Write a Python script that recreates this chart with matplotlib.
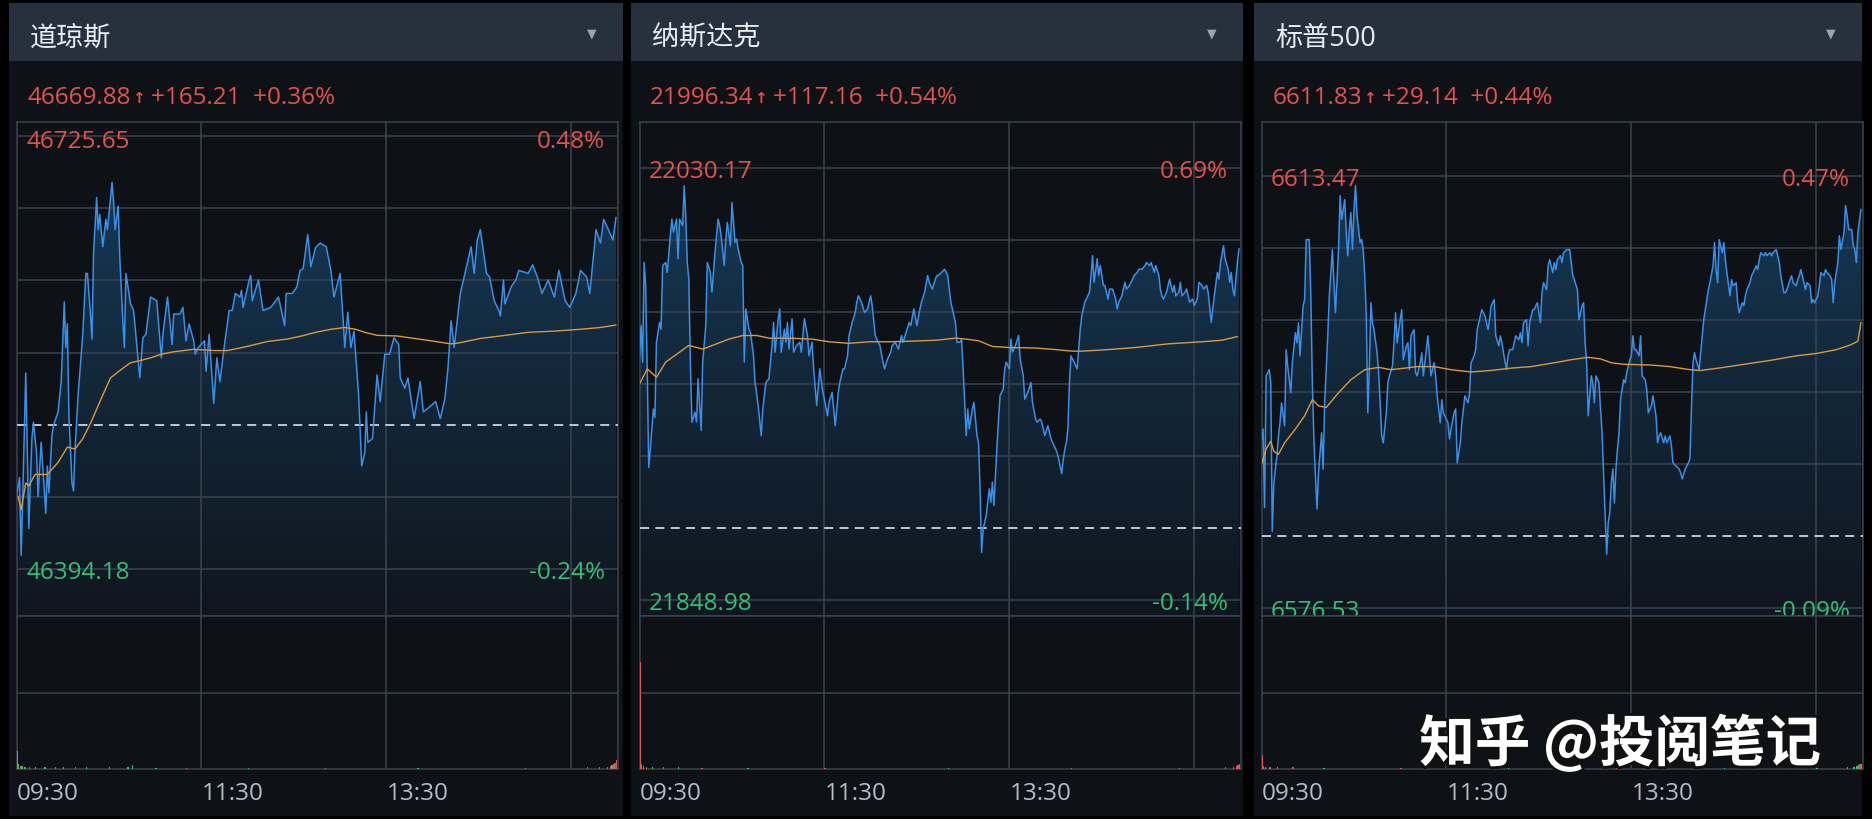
import numpy as np
import matplotlib
matplotlib.use('Agg')
import matplotlib.pyplot as plt
from matplotlib.patches import Rectangle, Polygon
from matplotlib.colors import LinearSegmentedColormap
from matplotlib.transforms import blended_transform_factory
import matplotlib.patheffects as pe

plt.rcParams['font.family'] = ['Open Sans', 'Noto Sans CJK SC', 'DejaVu Sans']

# ---------------- data ----------------
names = ['道琼斯', '纳斯达克', '标普500']
last_price = [46669.88, 21996.34, 6611.83]
change_abs = [165.21, 117.16, 29.14]
top_price = [46725.65, 22030.17, 6613.47]
bottom_price = [46394.18, 21848.98, 6576.53]
time_ticks = [0, 120, 240]
time_labels = ['09:30', '11:30', '13:30']
session_minutes = 390

# (minute since open, % change vs previous close)
dow_points = [
    (0, -0.118), (2, -0.087), (3, -0.215), (4, -0.123), (6, 0.085), (8, -0.171), (10, -0.023), (11, 0.004), (13, -0.046), (14, -0.118),
    (16, -0.029), (19, -0.146), (20, -0.068), (21, -0.112), (23, -0.018), (24, -0.001), (27, 0.021), (29, 0.071), (31, 0.202), (32, 0.127),
    (33, 0.166), (34, 0.016), (36, -0.096), (37, -0.109), (38, -0.04), (40, 0.049), (41, 0.082), (43, 0.149), (45, 0.249), (46, 0.249),
    (48, 0.182), (49, 0.141), (50, 0.282), (52, 0.374), (53, 0.321), (54, 0.346), (56, 0.293), (58, 0.338), (59, 0.321), (62, 0.399),
    (63, 0.366), (64, 0.321), (66, 0.36), (67, 0.277), (69, 0.171), (70, 0.127), (71, 0.249), (74, 0.199), (76, 0.188), (80, 0.077),
    (82, 0.143), (84, 0.149), (87, 0.21), (91, 0.204), (94, 0.11), (95, 0.149), (98, 0.21), (101, 0.132), (102, 0.182), (106, 0.182),
    (108, 0.193), (110, 0.138), (112, 0.166), (115, 0.138), (116, 0.116), (118, 0.127), (122, 0.138), (123, 0.088), (125, 0.149), (128, 0.035),
    (130, 0.11), (132, 0.071), (135, 0.132), (138, 0.188), (140, 0.188), (142, 0.216), (145, 0.21), (146, 0.221), (147, 0.193), (151, 0.238),
    (152, 0.246), (153, 0.204), (157, 0.238), (160, 0.188), (165, 0.193), (170, 0.21), (174, 0.163), (175, 0.216), (179, 0.216), (182, 0.227),
    (184, 0.254), (186, 0.257), (189, 0.313), (191, 0.26), (194, 0.291), (197, 0.299), (201, 0.293), (204, 0.254), (206, 0.21), (210, 0.249),
    (212, 0.171), (213, 0.127), (215, 0.185), (217, 0.127), (219, 0.154), (222, 0.049), (224, -0.068), (226, -0.046), (227, 0.021), (228, -0.029),
    (231, -0.023), (234, 0.082), (236, 0.038), (239, 0.116), (242, 0.116), (245, 0.143), (248, 0.132), (249, 0.077), (252, 0.06), (254, 0.077),
    (258, 0.01), (262, 0.071), (264, 0.021), (267, 0.027), (272, 0.038), (275, 0.01), (278, 0.043), (280, 0.093), (282, 0.171), (284, 0.127),
    (285, 0.149), (288, 0.216), (292, 0.26), (295, 0.293), (297, 0.249), (299, 0.304), (301, 0.321), (305, 0.249), (307, 0.243), (310, 0.204),
    (313, 0.188), (314, 0.179), (316, 0.238), (317, 0.199), (321, 0.227), (324, 0.238), (326, 0.254), (332, 0.249), (335, 0.263), (338, 0.243),
    (341, 0.216), (345, 0.238), (349, 0.21), (352, 0.254), (356, 0.204), (359, 0.193), (363, 0.216), (366, 0.254), (370, 0.243), (372, 0.216),
    (375, 0.293), (376, 0.321), (379, 0.299), (381, 0.338), (385, 0.316), (387, 0.304), (389, 0.341)]

nasdaq_points = [
    (0, 0.324), (1, 0.388), (2, 0.318), (3, 0.509), (4, 0.465), (5, 0.305), (6, 0.116), (7, 0.151), (9, 0.228), (10, 0.212),
    (11, 0.356), (13, 0.394), (14, 0.381), (15, 0.503), (17, 0.509), (18, 0.49), (20, 0.56), (21, 0.592), (22, 0.567), (24, 0.592),
    (25, 0.516), (26, 0.592), (28, 0.58), (29, 0.656), (30, 0.599), (31, 0.509), (32, 0.477), (33, 0.318), (34, 0.203), (36, 0.222),
    (37, 0.203), (38, 0.286), (40, 0.187), (41, 0.318), (43, 0.388), (44, 0.509), (46, 0.49), (47, 0.452), (49, 0.528), (51, 0.592),
    (52, 0.58), (53, 0.56), (55, 0.503), (56, 0.554), (57, 0.586), (59, 0.541), (60, 0.624), (62, 0.548), (63, 0.554), (64, 0.535),
    (66, 0.509), (67, 0.503), (68, 0.318), (69, 0.42), (71, 0.381), (72, 0.375), (74, 0.33), (75, 0.279), (77, 0.235), (79, 0.177),
    (80, 0.228), (82, 0.279), (84, 0.286), (86, 0.35), (87, 0.394), (88, 0.337), (90, 0.401), (91, 0.42), (92, 0.337), (94, 0.381),
    (95, 0.356), (96, 0.394), (97, 0.343), (99, 0.401), (100, 0.337), (102, 0.35), (104, 0.356), (105, 0.337), (107, 0.401), (109, 0.369),
    (110, 0.33), (112, 0.356), (113, 0.305), (115, 0.235), (117, 0.305), (119, 0.26), (120, 0.247), (122, 0.215), (123, 0.241), (125, 0.26),
    (127, 0.196), (129, 0.26), (130, 0.279), (132, 0.305), (133, 0.305), (135, 0.33), (136, 0.369), (138, 0.394), (140, 0.413), (141, 0.433),
    (142, 0.445), (144, 0.433), (146, 0.413), (148, 0.42), (149, 0.433), (150, 0.445), (151, 0.426), (153, 0.369), (154, 0.362), (156, 0.35),
    (158, 0.318), (159, 0.305), (161, 0.324), (163, 0.337), (164, 0.35), (166, 0.356), (168, 0.343), (170, 0.369), (171, 0.356), (173, 0.375),
    (175, 0.394), (176, 0.388), (178, 0.42), (180, 0.388), (182, 0.42), (183, 0.433), (185, 0.452), (187, 0.484), (188, 0.471), (190, 0.458),
    (192, 0.477), (193, 0.484), (194, 0.484), (196, 0.49), (198, 0.496), (200, 0.484), (202, 0.433), (203, 0.42), (205, 0.394), (206, 0.356),
    (208, 0.356), (209, 0.362), (210, 0.305), (212, 0.177), (213, 0.228), (214, 0.19), (216, 0.228), (217, 0.241), (219, 0.177), (220, 0.164),
    (221, 0.075), (222, -0.047), (223, -0.002), (225, 0.024), (227, 0.075), (228, 0.049), (229, 0.088), (230, 0.043), (232, 0.158), (233, 0.209),
    (234, 0.254), (236, 0.266), (237, 0.305), (238, 0.318), (240, 0.305), (241, 0.362), (242, 0.337), (244, 0.35), (246, 0.369), (247, 0.324),
    (249, 0.292), (250, 0.247), (252, 0.26), (254, 0.279), (255, 0.241), (257, 0.209), (258, 0.203), (260, 0.209), (261, 0.203), (263, 0.177),
    (265, 0.196), (267, 0.171), (269, 0.158), (271, 0.145), (272, 0.132), (274, 0.104), (275, 0.132), (276, 0.151), (277, 0.164), (278, 0.19),
    (279, 0.279), (280, 0.33), (282, 0.318), (284, 0.305), (285, 0.343), (286, 0.381), (287, 0.407), (289, 0.433), (290, 0.439), (292, 0.452),
    (293, 0.484), (294, 0.522), (295, 0.471), (297, 0.516), (298, 0.484), (299, 0.503), (301, 0.465), (302, 0.465), (304, 0.439), (305, 0.458),
    (307, 0.458), (309, 0.439), (310, 0.42), (311, 0.433), (313, 0.445), (315, 0.471), (316, 0.458), (318, 0.465), (319, 0.471), (321, 0.484),
    (323, 0.49), (324, 0.496), (326, 0.496), (328, 0.503), (329, 0.509), (331, 0.503), (332, 0.509), (334, 0.49), (335, 0.503), (337, 0.484),
    (338, 0.458), (339, 0.445), (340, 0.439), (342, 0.452), (343, 0.465), (344, 0.477), (346, 0.452), (347, 0.465), (348, 0.445), (350, 0.452),
    (351, 0.471), (352, 0.445), (354, 0.452), (355, 0.458), (356, 0.445), (357, 0.433), (359, 0.439), (360, 0.426), (362, 0.439), (363, 0.471),
    (365, 0.465), (366, 0.458), (368, 0.465), (369, 0.452), (371, 0.394), (372, 0.42), (373, 0.445), (375, 0.49), (376, 0.477), (377, 0.509),
    (379, 0.541), (380, 0.516), (382, 0.496), (383, 0.471), (384, 0.49), (385, 0.458), (386, 0.445), (388, 0.509), (389, 0.535)]

sp500_points = [
    (0, 0.126), (1, 0.139), (2, 0.037), (3, 0.208), (5, 0.216), (6, 0.199), (7, 0.006), (8, 0.069), (10, 0.104), (11, 0.13),
    (12, 0.147), (13, 0.173), (15, 0.143), (16, 0.242), (17, 0.221), (19, 0.186), (20, 0.225), (22, 0.264), (23, 0.251), (24, 0.277),
    (25, 0.234), (27, 0.299), (28, 0.307), (29, 0.385), (31, 0.385), (32, 0.312), (33, 0.199), (34, 0.126), (35, 0.078), (36, 0.035),
    (37, 0.082), (38, 0.108), (39, 0.134), (40, 0.087), (41, 0.173), (42, 0.216), (43, 0.26), (44, 0.312), (46, 0.372), (47, 0.329),
    (48, 0.29), (50, 0.372), (51, 0.442), (52, 0.411), (54, 0.437), (55, 0.394), (56, 0.364), (57, 0.398), (58, 0.42), (59, 0.372),
    (60, 0.424), (61, 0.455), (62, 0.416), (64, 0.381), (65, 0.385), (66, 0.372), (67, 0.338), (68, 0.286), (69, 0.16), (70, 0.221),
    (71, 0.303), (72, 0.277), (73, 0.268), (75, 0.238), (76, 0.212), (77, 0.173), (78, 0.13), (79, 0.121), (81, 0.16), (82, 0.199),
    (83, 0.208), (85, 0.221), (86, 0.251), (87, 0.29), (88, 0.251), (90, 0.281), (91, 0.294), (92, 0.229), (94, 0.247), (95, 0.251),
    (96, 0.216), (97, 0.26), (99, 0.268), (100, 0.212), (101, 0.208), (103, 0.225), (104, 0.238), (105, 0.208), (107, 0.242), (108, 0.26),
    (109, 0.234), (110, 0.208), (112, 0.225), (113, 0.208), (114, 0.182), (116, 0.147), (117, 0.177), (118, 0.16), (119, 0.156), (121, 0.147),
    (122, 0.126), (123, 0.139), (125, 0.16), (126, 0.165), (127, 0.095), (129, 0.121), (130, 0.147), (131, 0.165), (132, 0.182), (134, 0.173),
    (135, 0.186), (136, 0.225), (138, 0.234), (139, 0.242), (140, 0.268), (142, 0.286), (143, 0.294), (144, 0.29), (145, 0.286), (147, 0.268),
    (148, 0.281), (149, 0.299), (150, 0.303), (151, 0.307), (152, 0.26), (154, 0.247), (155, 0.26), (156, 0.251), (157, 0.238), (159, 0.216),
    (160, 0.234), (161, 0.242), (163, 0.242), (164, 0.251), (165, 0.26), (167, 0.255), (168, 0.264), (169, 0.251), (170, 0.277), (172, 0.281),
    (173, 0.247), (174, 0.277), (176, 0.294), (177, 0.294), (178, 0.299), (179, 0.303), (181, 0.277), (182, 0.316), (183, 0.329), (185, 0.32),
    (186, 0.351), (187, 0.359), (189, 0.342), (190, 0.355), (191, 0.346), (192, 0.359), (194, 0.364), (195, 0.355), (196, 0.368), (198, 0.372),
    (200, 0.372), (202, 0.338), (203, 0.333), (205, 0.32), (206, 0.281), (208, 0.299), (209, 0.303), (210, 0.251), (211, 0.225), (212, 0.156),
    (214, 0.208), (215, 0.199), (216, 0.173), (217, 0.208), (219, 0.199), (220, 0.165), (221, 0.134), (222, 0.078), (223, 0.026), (224, -0.024),
    (225, 0.017), (226, 0.03), (227, 0.069), (228, 0.087), (229, 0.043), (230, 0.087), (231, 0.113), (232, 0.134), (233, 0.177), (235, 0.203),
    (236, 0.199), (237, 0.212), (239, 0.229), (240, 0.234), (241, 0.26), (242, 0.242), (243, 0.242), (245, 0.234), (246, 0.26), (247, 0.208),
    (249, 0.203), (250, 0.19), (251, 0.16), (253, 0.169), (254, 0.182), (256, 0.156), (257, 0.121), (258, 0.13), (259, 0.134), (261, 0.121),
    (262, 0.13), (263, 0.121), (265, 0.13), (266, 0.117), (267, 0.095), (269, 0.091), (271, 0.087), (272, 0.082), (273, 0.074), (275, 0.087),
    (276, 0.091), (277, 0.095), (278, 0.1), (279, 0.165), (280, 0.225), (281, 0.238), (282, 0.229), (284, 0.216), (285, 0.238), (286, 0.26),
    (287, 0.281), (289, 0.307), (290, 0.32), (291, 0.329), (293, 0.351), (294, 0.381), (295, 0.346), (296, 0.329), (297, 0.385), (299, 0.368),
    (300, 0.381), (301, 0.359), (302, 0.342), (304, 0.312), (305, 0.333), (306, 0.325), (308, 0.329), (309, 0.303), (310, 0.29), (312, 0.303),
    (313, 0.299), (314, 0.312), (315, 0.32), (317, 0.329), (318, 0.338), (319, 0.342), (321, 0.351), (322, 0.346), (323, 0.359), (324, 0.368),
    (326, 0.364), (327, 0.368), (328, 0.364), (330, 0.368), (331, 0.364), (332, 0.368), (334, 0.372), (335, 0.364), (336, 0.355), (337, 0.338),
    (339, 0.316), (340, 0.316), (341, 0.32), (343, 0.333), (344, 0.338), (345, 0.329), (347, 0.325), (348, 0.333), (349, 0.338), (350, 0.346),
    (352, 0.329), (353, 0.32), (354, 0.329), (356, 0.325), (357, 0.303), (358, 0.307), (359, 0.303), (361, 0.312), (362, 0.325), (363, 0.342),
    (365, 0.338), (366, 0.346), (367, 0.342), (369, 0.338), (370, 0.333), (371, 0.303), (372, 0.329), (374, 0.355), (375, 0.39), (376, 0.372),
    (378, 0.394), (379, 0.429), (380, 0.416), (381, 0.398), (383, 0.398), (384, 0.377), (385, 0.372), (386, 0.355), (387, 0.394), (389, 0.424)]

# average-price line (minute, % change)
dow_avg_min = [1, 3, 6, 8, 12, 16, 20, 27, 33, 38, 43, 48, 55, 61, 68, 74, 81, 87, 94, 102, 115, 128, 137, 150, 163,
               176, 185, 194, 204, 213, 220, 226, 234, 247, 258, 269, 282, 288, 301, 314, 332, 349, 366, 379, 389]
dow_avg_pct = [-0.118, -0.14, -0.096, -0.101, -0.082, -0.082, -0.082, -0.062, -0.037, -0.04, -0.023, 0.002, 0.043, 0.077,
               0.091, 0.102, 0.106, 0.11, 0.116, 0.12, 0.124, 0.122, 0.122, 0.129, 0.137, 0.141, 0.146, 0.152, 0.157, 0.16,
               0.157, 0.152, 0.147, 0.146, 0.142, 0.138, 0.133, 0.135, 0.142, 0.146, 0.152, 0.154, 0.157, 0.16, 0.164]
nasdaq_avg_min = [0, 5, 11, 17, 26, 32, 41, 50, 58, 67, 76, 84, 97, 112, 123, 136, 149, 162, 175, 193, 205, 212, 220, 229,
                  240, 257, 270, 281, 287, 304, 322, 343, 365, 378, 388]
nasdaq_avg_pct = [0.276, 0.305, 0.289, 0.318, 0.337, 0.35, 0.343, 0.353, 0.362, 0.369, 0.369, 0.364, 0.364, 0.362, 0.357,
                  0.354, 0.357, 0.357, 0.358, 0.36, 0.364, 0.362, 0.359, 0.348, 0.346, 0.345, 0.342, 0.339, 0.339, 0.342,
                  0.346, 0.353, 0.357, 0.36, 0.367]
sp500_avg_min = [0, 3, 6, 8, 11, 15, 22, 28, 33, 37, 42, 50, 58, 67, 76, 84, 93, 101, 112, 123, 136, 149, 162, 175, 193,
                 201, 212, 220, 227, 235, 253, 265, 278, 285, 300, 313, 330, 347, 360, 373, 382, 387, 389]
sp500_avg_pct = [0.093, 0.113, 0.123, 0.11, 0.106, 0.121, 0.139, 0.156, 0.177, 0.169, 0.167, 0.186, 0.203, 0.216, 0.219,
                 0.216, 0.218, 0.22, 0.22, 0.216, 0.213, 0.215, 0.218, 0.22, 0.226, 0.229, 0.232, 0.23, 0.225, 0.223,
                 0.222, 0.22, 0.216, 0.215, 0.219, 0.223, 0.228, 0.234, 0.237, 0.242, 0.248, 0.253, 0.277]

# volume (minute, volume in relative units, 1 = up/red, 0 = down/green)
dow_volume = [(0, 12, 0), (1, 3, 0), (2, 2, 1), (3, 2, 0), (5, 1.5, 0), (8, 1.5, 1), (12, 1.2, 0), (18, 1, 0), (25, 1.2, 1),
              (30, 1, 0), (38, 1.2, 1), (45, 1, 0), (60, 1, 0), (72, 1, 0), (75, 2.5, 0), (90, 0.8, 0), (110, 0.8, 1),
              (150, 0.8, 0), (200, 0.8, 1), (260, 0.8, 0), (330, 0.8, 0), (370, 1, 1), (378, 1.2, 1), (383, 1.6, 1),
              (385, 2, 1), (386, 2.5, 0), (387, 3, 1), (388, 4, 1), (389, 6, 1)]
nasdaq_volume = [(0, 70, 1), (1, 3, 1), (2, 2, 0), (4, 1.5, 1), (8, 1.2, 0), (15, 1, 1), (25, 1, 0), (40, 0.8, 1),
                 (70, 0.8, 0), (120, 0.8, 1), (200, 0.8, 0), (280, 0.8, 1), (350, 0.8, 0), (380, 1, 1), (385, 1.5, 0),
                 (387, 2, 1), (388, 2.5, 1), (389, 3, 1)]
sp500_volume = [(0, 9, 1), (1, 2, 1), (2, 1.5, 0), (5, 1.2, 1), (10, 1, 0), (20, 1, 1), (40, 0.8, 0), (90, 0.8, 1),
                (160, 0.8, 0), (230, 0.8, 1), (300, 0.8, 0), (360, 0.8, 0), (380, 1.2, 0), (384, 1.6, 0), (386, 2, 0),
                (387, 2.5, 0), (388, 3, 1), (389, 3.5, 0)]

all_points = [dow_points, nasdaq_points, sp500_points]
all_avg = [(dow_avg_min, dow_avg_pct), (nasdaq_avg_min, nasdaq_avg_pct), (sp500_avg_min, sp500_avg_pct)]
all_vol = [dow_volume, nasdaq_volume, sp500_volume]

# ---------------- style / layout ----------------
W, H, DPI = 1872, 820, 100
FIG_BG = '#000000'
HEADER = '#27313e'
BODY = '#0e1116'
GRID = '#3a4350'
RED = '#e2524e'
GREEN = '#33bf78'
BLUE = '#3b8fe6'
ORANGE = '#d99a3e'
DASH = '#c7d5ec'
TIME_COL = '#b5bcc8'
LABEL_FS = 17.5

panel_left = [9, 631, 1254]
panel_right = [623, 1243, 1862]
plot_left = [16.5, 639.5, 1261.5]
plot_w = 601
header_top, header_bot = 4, 62
body_bot = 817
chart_top, price_bot, vol_bot = 123, 617, 770
pad_top_px = [14, 46, 54]
pad_bot_px = [47, 16, 8]

fig = plt.figure(figsize=(W / DPI, H / DPI), dpi=DPI, facecolor=FIG_BG)
bg = fig.add_axes([0, 0, 1, 1], zorder=0)
bg.set_xlim(0, W)
bg.set_ylim(H, 0)
bg.axis('off')
renderer = fig.canvas.get_renderer()


def px_axes(x0, y0, x1, y1, z=1):
    return fig.add_axes([x0 / W, 1 - y1 / H, (x1 - x0) / W, (y1 - y0) / H], zorder=z)


def right_edge(txt):
    bb = txt.get_window_extent(renderer=renderer)
    return bg.transData.inverted().transform((bb.x1, bb.y0))[0]


grad_cmap = LinearSegmentedColormap.from_list('fillgrad', ['#10161e', '#13283b', '#173f5e'])

for i in range(3):
    pl, pr = panel_left[i], panel_right[i]
    x0 = plot_left[i]
    prev_close = last_price[i] - change_abs[i]
    chg_pct = change_abs[i] / prev_close * 100
    top_pct = (top_price[i] / prev_close - 1) * 100
    bot_pct = (bottom_price[i] / prev_close - 1) * 100

    # panel background + header
    bg.add_patch(Rectangle((pl, header_bot), pr - pl, body_bot - header_bot, color=BODY, lw=0))
    bg.add_patch(Rectangle((pl, header_top), pr - pl, header_bot - header_top, color=HEADER, lw=0))
    bg.text(pl + 21, 38.5, names[i], color='#e9edf3', fontsize=19.5, ha='left', va='center')
    bg.text(pr - 31, 34, '▼', color='#9aa3b2', fontsize=9, ha='center', va='center', family='DejaVu Sans')

    # price row: last price, small arrow, change, change %
    row_y = 97.5
    t1 = bg.text(pl + 19, row_y, f'{last_price[i]:.2f}', color=RED, fontsize=LABEL_FS, ha='left', va='center')
    xa = right_edge(t1)
    t2 = bg.text(xa + 0.5, row_y + 1, '↑', color=RED, fontsize=11, fontweight='bold', ha='left', va='center',
                 family='DejaVu Sans')
    xb = right_edge(t2)
    bg.text(xb + 6, row_y, f'+{change_abs[i]:.2f}  +{chg_pct:.2f}%', color=RED, fontsize=LABEL_FS,
            ha='left', va='center')

    # price axes
    ax = px_axes(x0, chart_top, x0 + plot_w, price_bot)
    vax = px_axes(x0, price_bot, x0 + plot_w, vol_bot)
    per_px = (top_pct - bot_pct) / (price_bot - chart_top - pad_top_px[i] - pad_bot_px[i])
    ymax = top_pct + pad_top_px[i] * per_px
    ymin = bot_pct - pad_bot_px[i] * per_px

    pts = np.array(all_points[i], dtype=float)
    xm, yv = pts[:, 0], pts[:, 1]

    # gradient area fill under the price line
    verts = [(xm[0], ymin)] + list(zip(xm, yv)) + [(xm[-1], ymin)]
    poly = Polygon(verts, closed=True, facecolor='none', edgecolor='none')
    ax.add_patch(poly)
    grad = np.linspace(1, 0, 256).reshape(-1, 1)
    im = ax.imshow(grad, aspect='auto', extent=[0, session_minutes, ymin, ymax], origin='upper',
                   cmap=grad_cmap, vmin=0, vmax=1, zorder=1, interpolation='bilinear')
    im.set_clip_path(poly)

    # grid
    levels = np.linspace(bot_pct, top_pct, 7)
    for lev in levels:
        if abs(lev) > 0.005:
            ax.axhline(lev, color=GRID, lw=1.1, zorder=2)
    for t in [120, 240, 360]:
        ax.axvline(t, color=GRID, lw=1.1, zorder=2)
        vax.axvline(t, color=GRID, lw=1.1, zorder=2)
    ax.axhline(0, color=DASH, lw=1.3, ls=(0, (5, 3.5)), zorder=3)

    ax.plot(xm, yv, color=BLUE, lw=1.1, zorder=4, solid_joinstyle='round')
    am, ap = all_avg[i]
    ax.plot(am, ap, color=ORANGE, lw=1.0, zorder=4)

    ax.set_xlim(0, session_minutes)
    ax.set_ylim(ymin, ymax)
    ax.set_facecolor(BODY)
    for s in ax.spines.values():
        s.set_color(GRID)
        s.set_linewidth(1.1)
    ax.set_xticks([])
    ax.set_yticks([])

    off = (5 if i == 0 else 3) * per_px  # nudge labels a few px below their grid line
    tr = blended_transform_factory(ax.transAxes, ax.transData)
    ax.text(0.016, top_pct - off, f'{top_price[i]:.2f}', transform=tr, color=RED, fontsize=LABEL_FS,
            ha='left', va='center', zorder=5)
    ax.text(0.979, top_pct - off, f'{top_pct:.2f}%', transform=tr, color=RED, fontsize=LABEL_FS,
            ha='right', va='center', zorder=5)
    ax.text(0.016, bot_pct - 3 * per_px, f'{bottom_price[i]:.2f}', transform=tr, color=GREEN, fontsize=LABEL_FS,
            ha='left', va='center', zorder=5)
    ax.text(0.979, bot_pct - 3 * per_px, f'{bot_pct:.2f}%', transform=tr, color=GREEN, fontsize=LABEL_FS,
            ha='right', va='center', zorder=5)

    # volume axes
    vol = all_vol[i]
    vm = [v[0] for v in vol]
    vv = [v[1] for v in vol]
    vc = [RED if v[2] else GREEN for v in vol]
    vax.bar(vm, vv, width=0.9, color=vc, align='edge', zorder=3)
    vax.set_xlim(0, session_minutes)
    vax.set_ylim(0, 100)
    vax.axhline(50, color=GRID, lw=1.1, zorder=2)
    vax.set_facecolor(BODY)
    for s in vax.spines.values():
        s.set_color(GRID)
        s.set_linewidth(1.1)
    vax.set_xticks([])
    vax.set_yticks([])
    trv = blended_transform_factory(vax.transData, vax.transAxes)
    for t, lab in zip(time_ticks, time_labels):
        vax.text(t, -0.157, lab, transform=trv, color=TIME_COL, fontsize=LABEL_FS, ha='left', va='center')

# watermark
wm = fig.add_axes([0, 0, 1, 1], zorder=30)
wm.set_xlim(0, W)
wm.set_ylim(H, 0)
wm.axis('off')
wm.text(1620, 745, '知乎 @投阅笔记', fontsize=40, color='white', fontweight='bold', ha='center', va='center',
        family=['Noto Sans CJK SC', 'DejaVu Sans'],
        path_effects=[pe.withStroke(linewidth=4, foreground='#111111')])

fig.savefig('out.png', dpi=DPI, facecolor=FIG_BG)
